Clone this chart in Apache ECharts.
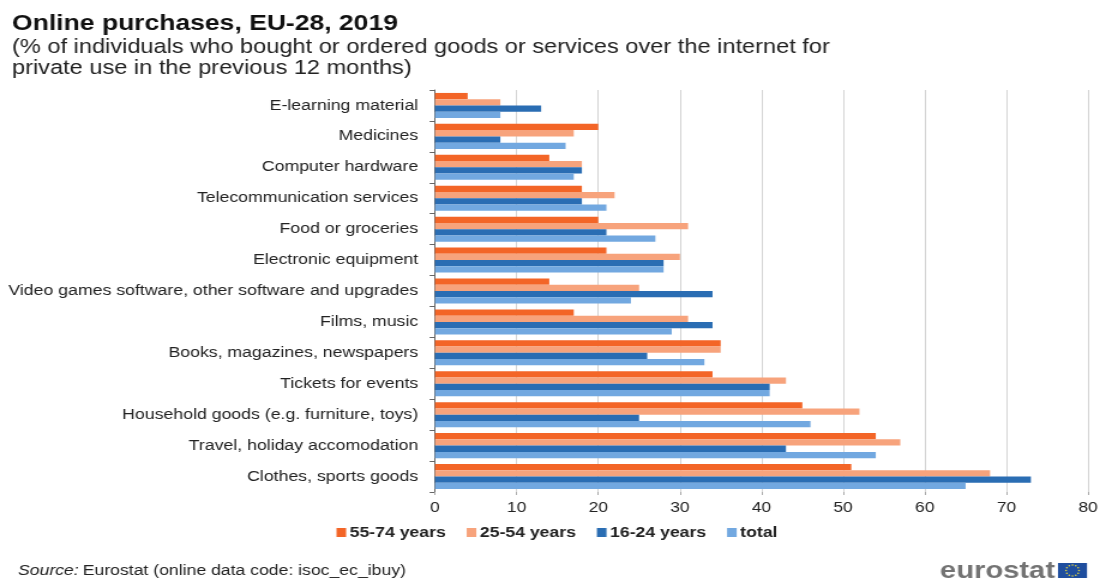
<!DOCTYPE html>
<html>
<head>
<meta charset="utf-8">
<style>
html,body{margin:0;padding:0;background:#fff;overflow:hidden}
/* The figure uses a horizontally widened typeface and layout */
#chart{width:922px;height:578px;transform:scaleX(1.19957);transform-origin:0 0}
</style>
<script src="https://cdn.jsdelivr.net/npm/echarts@6/dist/echarts.min.js"></script>
</head>
<body>
<div id="chart"></div>
<script>
const categories = ['E-learning material','Medicines','Computer hardware','Telecommunication services','Food or groceries','Electronic equipment','Video games software, other software and upgrades','Films, music','Books, magazines, newspapers','Tickets for events','Household goods (e.g. furniture, toys)','Travel, holiday accomodation','Clothes, sports goods'];
const age55to74 = [4,20,14,18,20,21,14,17,35,34,45,54,51];
const age25to54 = [8,17,18,22,31,30,25,31,35,43,52,57,68];
const age16to24 = [13,8,18,18,21,28,34,34,26,41,25,43,73];
const total = [8,16,17,21,27,28,24,29,33,41,46,54,65];
const seriesNames = ['55-74 years','25-54 years','16-24 years','total'];
const seriesColors = ['#F36527','#F7A37C','#2A6DB3','#72A8E0'];
const seriesValues = [age55to74, age25to54, age16to24, total];

const FONT = '"Liberation Sans", Arial, sans-serif';
const SX = 1106 / 922;
const px = v => v / SX;
const chart = echarts.init(document.getElementById('chart'), null, {renderer:'canvas'});

// EU flag stars, laid out on a ring inside the flag rectangle
const flagCx = px(1072.5), flagCy = 570.5;
const stars = Array.from({length:12}, (_, i) => ({
  type:'circle',
  shape:{cx:flagCx + px(6.5)*Math.cos(i*Math.PI/6), cy:flagCy + 5.5*Math.sin(i*Math.PI/6), r:0.8},
  style:{fill:'#E8D83A'}
}));

chart.setOption({
  animation:false,
  backgroundColor:'#fff',
  textStyle:{fontFamily:FONT},
  grid:{left:px(435), right:px(18), top:90, bottom:86, containLabel:false},
  legend:{
    left:px(336.5), top:525, itemWidth:8, itemHeight:9, itemGap:17.5,
    padding:0,
    icon:'rect',
    data:seriesNames,
    textStyle:{fontFamily:FONT, fontSize:14.7, fontWeight:'bold', color:'#222', padding:[0,0,0,-2]}
  },
  xAxis:{
    type:'value', min:0, max:80, interval:10, position:'bottom',
    axisLine:{show:false},
    axisTick:{show:true, length:3, lineStyle:{color:'#aaa'}},
    axisLabel:{fontFamily:FONT, fontSize:14.5, color:'#222', margin:8},
    splitLine:{show:true, lineStyle:{color:'#d4d4d4', width:1}}
  },
  yAxis:{
    type:'category', data:categories, inverse:true,
    axisLine:{show:true, lineStyle:{color:'#666', width:1}},
    axisTick:{show:true, length:4.5, lineStyle:{color:'#666'}},
    axisLabel:{fontFamily:FONT, fontSize:14.75, color:'#222', margin:14, lineHeight:17, padding:[4,0,0,0]}
  },
  series:seriesNames.map((name,i)=>({
    name, type:'bar', data:seriesValues[i],
    barGap:0, barCategoryGap:'19%',
    itemStyle:{color:seriesColors[i]}
  })),
  graphic:[
    {type:'text', left:px(12), top:13, style:{text:'Online purchases, EU-28, 2019', font:'bold 22.1px '+FONT, fill:'#111'}},
    {type:'text', left:px(12), top:38, style:{text:'(% of individuals who bought or ordered goods or services over the internet for', font:'19.67px '+FONT, fill:'#222'}},
    {type:'text', left:px(12), top:59, style:{text:'private use in the previous 12 months)', font:'19.67px '+FONT, fill:'#222'}},
    {type:'text', left:px(18), top:563, style:{rich:{a:{font:'italic 14.7px '+FONT, fill:'#222'},b:{font:'14.7px '+FONT, fill:'#222'}}, text:'{a|Source:} {b|Eurostat (online data code: isoc_ec_ibuy)}'}},
    {type:'text', left:px(940), top:559, style:{text:'eurostat', font:'bold 24.3px '+FONT, fill:'#737373'}},
    {type:'rect', shape:{x:px(1058),y:563,width:px(29),height:15}, style:{fill:'#1F4E9E'}},
    ...stars
  ]
});
</script>
</body>
</html>
